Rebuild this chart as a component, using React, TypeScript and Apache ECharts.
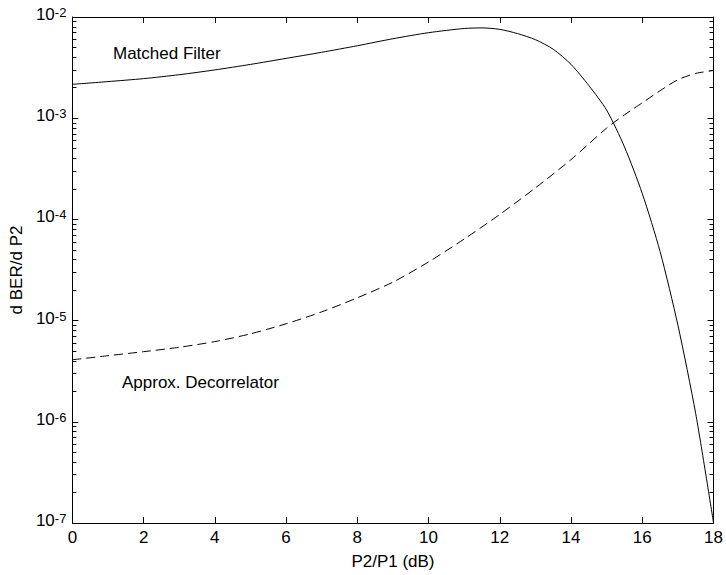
import React, { useEffect, useRef } from "react";
import * as echarts from "echarts";

// ---- data ----
const xTicks = [0, 2, 4, 6, 8, 10, 12, 14, 16, 18];
const yExponents = [-7, -6, -5, -4, -3, -2];

const matchedX = [0, 1, 2, 3, 4, 5, 6, 7, 8, 9, 10, 11, 11.5, 12, 12.5, 13, 13.5, 14, 14.5, 15, 15.5, 16, 16.5, 17, 17.5, 18];
const matchedY = [2.16e-3, 2.3e-3, 2.46e-3, 2.69e-3, 3.0e-3, 3.4e-3, 3.9e-3, 4.48e-3, 5.2e-3, 6.1e-3, 7.0e-3, 7.7e-3, 7.8e-3, 7.55e-3, 6.85e-3, 5.97e-3, 4.8e-3, 3.4e-3, 2.1e-3, 1.2e-3, 5.2e-4, 1.8e-4, 4.8e-5, 9e-6, 1.2e-6, 1e-7];

const decorrX = [0, 1, 2, 3, 4, 5, 6, 7, 8, 9, 10, 11, 12, 13, 14, 15, 15.5, 16, 16.5, 17, 17.5, 18];
const decorrY = [4.1e-6, 4.5e-6, 4.93e-6, 5.45e-6, 6.2e-6, 7.4e-6, 9.3e-6, 1.22e-5, 1.68e-5, 2.4e-5, 3.8e-5, 6.4e-5, 1.12e-4, 2.05e-4, 3.9e-4, 8.0e-4, 1.08e-3, 1.42e-3, 1.87e-3, 2.4e-3, 2.77e-3, 2.96e-3];

const labelMatched = "Matched Filter";
const labelDecorr = "Approx. Decorrelator";
const xName = "P2/P1 (dB)";
const yName = "d BER/d P2";

const FONT = "'Liberation Sans', Arial, Helvetica, sans-serif";

// minor tick positions in exponent space (2..9 of each decade)
const minorExps: number[] = [];
for (let e = yExponents[0]; e < yExponents[yExponents.length - 1]; e++) {
  for (let k = 2; k <= 9; k++) minorExps.push(e + Math.log10(k));
}

export default function App() {
  const ref = useRef<HTMLDivElement>(null);
  useEffect(() => {
    if (!ref.current) return;
    const chart = echarts.init(ref.current, undefined, { renderer: "svg" });
    const axisLine = { show: true, onZero: false, lineStyle: { color: "#000", width: 1 } };
    const minY = Math.pow(10, yExponents[0]);
    const maxY = Math.pow(10, yExponents[yExponents.length - 1]);
    const decoAxis = (pos: "left" | "right", vals: number[], len: number) => ({
      type: "value",
      position: pos,
      offset: 0,
      min: yExponents[0],
      max: yExponents[yExponents.length - 1],
      axisLine: { show: false, onZero: false },
      axisLabel: { show: false },
      splitLine: { show: false },
      axisTick: {
        show: true,
        inside: true,
        length: len,
        customValues: vals,
        lineStyle: { color: "#000", width: 1 },
      },
    });
    chart.setOption({
      animation: false,
      backgroundColor: "#fff",
      grid: { left: 67, right: 12, top: 17, bottom: 47, containLabel: false },
      xAxis: [
        {
          type: "value",
          min: xTicks[0],
          max: xTicks[xTicks.length - 1],
          interval: 2,
          position: "bottom",
          name: xName,
          nameLocation: "middle",
          nameGap: 30,
          nameTextStyle: { fontFamily: FONT, fontSize: 17, color: "#000" },
          axisLine,
          axisTick: { show: true, inside: true, length: 6, lineStyle: { color: "#000" } },
          axisLabel: { show: true, margin: 6, fontFamily: FONT, fontSize: 17, color: "#000" },
          splitLine: { show: false },
        },
        {
          type: "value",
          min: xTicks[0],
          max: xTicks[xTicks.length - 1],
          interval: 2,
          position: "top",
          axisLine,
          axisTick: { show: true, inside: true, length: 6, lineStyle: { color: "#000" } },
          axisLabel: { show: false },
          splitLine: { show: false },
        },
      ],
      yAxis: [
        {
          type: "log",
          logBase: 10,
          min: minY,
          max: maxY,
          position: "left",
          name: yName,
          nameLocation: "middle",
          nameGap: 36,
          nameTextStyle: { fontFamily: FONT, fontSize: 17, color: "#000" },
          axisLine,
          axisTick: { show: true, inside: true, length: 6, lineStyle: { color: "#000" } },
          axisLabel: {
            show: true,
            margin: 6,
            padding: [0, 0, 5, 0],
            formatter: (v: number) => `{a|10}{b|-${-Math.round(Math.log10(v))}}`,
            rich: {
              a: { fontFamily: FONT, fontSize: 17, lineHeight: 17, color: "#000", verticalAlign: "bottom" },
              b: { fontFamily: FONT, fontSize: 13, lineHeight: 13, color: "#000", verticalAlign: "top", padding: [0, 0, 9, 0] },
            },
          },
          splitLine: { show: false },
        },
        decoAxis("left", minorExps, 4),
        {
          type: "value",
          position: "right",
          min: yExponents[0],
          max: yExponents[yExponents.length - 1],
          interval: 1,
          axisLine,
          axisLabel: { show: false },
          splitLine: { show: false },
          axisTick: { show: true, inside: true, length: 6, lineStyle: { color: "#000" } },
        },
        decoAxis("right", minorExps, 4),
      ],
      series: [
        {
          type: "line",
          name: labelMatched,
          xAxisIndex: 0,
          yAxisIndex: 0,
          data: matchedX.map((x, i) => [x, matchedY[i]]),
          showSymbol: false,
          smooth: 0.25,
          lineStyle: { color: "#000", width: 1 },
        },
        {
          type: "line",
          name: labelDecorr,
          xAxisIndex: 0,
          yAxisIndex: 0,
          data: decorrX.map((x, i) => [x, decorrY[i]]),
          showSymbol: false,
          smooth: 0.25,
          lineStyle: { color: "#000", width: 1, type: [9, 5] },
        },
      ],
      graphic: [
        {
          type: "text",
          left: 113,
          top: 45,
          style: { text: labelMatched, fontFamily: FONT, fontSize: 17, fill: "#000" },
        },
        {
          type: "text",
          left: 122,
          top: 374,
          style: { text: labelDecorr, fontFamily: FONT, fontSize: 17, fill: "#000" },
        },
      ],
    });
    return () => chart.dispose();
  }, []);
  return <div ref={ref} style={{ width: 726, height: 575, position: "absolute", left: 0, top: 0 }} />;
}
